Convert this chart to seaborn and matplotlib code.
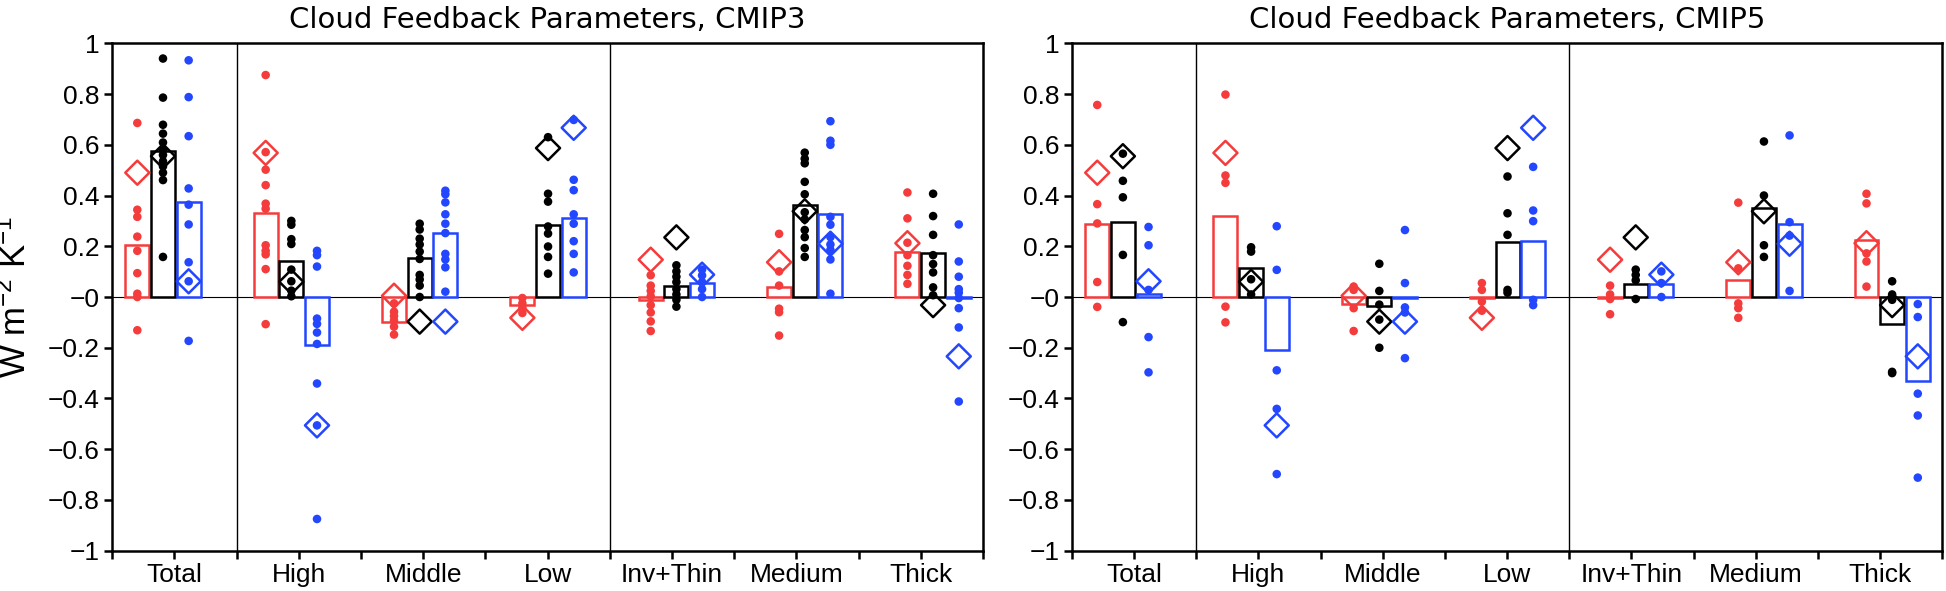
import numpy as np
import pandas as pd
import matplotlib.pyplot as plt
import seaborn as sns

# %%
# categories and components (red = LW, black = Net, blue = SW)
categories = ['Total', 'High', 'Middle', 'Low', 'Inv+Thin', 'Medium', 'Thick']
components = ['LW', 'Net', 'SW']

# multi-model mean feedbacks (bars)
cmip3_lw = [0.204, 0.333, -0.100, -0.032, -0.010, 0.038, 0.179]
cmip3_net = [0.576, 0.141, 0.155, 0.282, 0.042, 0.364, 0.172]
cmip3_sw = [0.373, -0.190, 0.252, 0.313, 0.055, 0.326, -0.005]

cmip5_lw = [0.288, 0.319, -0.028, -0.003, -0.003, 0.066, 0.226]
cmip5_net = [0.296, 0.113, -0.034, 0.217, 0.052, 0.352, -0.107]
cmip5_sw = [0.010, -0.209, -0.003, 0.221, 0.052, 0.289, -0.333]

# individual models (dots)
cmip3_lw_models = [
    [0.686, 0.344, 0.316, 0.238, 0.182, 0.094, 0.013, 0.0, -0.131],
    [0.875, 0.571, 0.502, 0.441, 0.368, 0.348, 0.204, 0.182, 0.168, 0.11, -0.107],
    [-0.025, -0.058, -0.075, -0.093, -0.117, -0.148],
    [-0.004, -0.025, -0.044, -0.063],
    [0.086, 0.045, 0.024, 0.003, -0.032, -0.061, -0.096, -0.134],
    [0.249, 0.101, 0.045, -0.046, -0.06, -0.152],
    [0.412, 0.31, 0.214, 0.165, 0.123, 0.087, 0.052],
]
cmip3_net_models = [
    [0.94, 0.786, 0.679, 0.644, 0.609, 0.58, 0.56, 0.535, 0.515, 0.49, 0.461, 0.158],
    [0.30, 0.285, 0.228, 0.209, 0.108, 0.062, 0.025, 0.003],
    [0.289, 0.266, 0.23, 0.207, 0.179, 0.15, 0.087, 0.069, 0.045, 0.0],
    [0.63, 0.407, 0.376, 0.278, 0.25, 0.199, 0.158, 0.092],
    [0.125, 0.101, 0.08, 0.059, 0.031, 0.01, -0.011, -0.038],
    [0.569, 0.545, 0.527, 0.454, 0.405, 0.334, 0.306, 0.264, 0.236, 0.193, 0.158],
    [0.407, 0.319, 0.245, 0.165, 0.13, 0.097, 0.038, 0.007],
]
cmip3_sw_models = [
    [0.933, 0.788, 0.634, 0.428, 0.364, 0.286, 0.137, 0.062, -0.173],
    [0.182, 0.165, 0.12, -0.085, -0.106, -0.14, -0.185, -0.341, -0.506, -0.875],
    [0.419, 0.405, 0.373, 0.326, 0.289, 0.252, 0.17, 0.148, 0.117, 0.021],
    [0.698, 0.462, 0.421, 0.326, 0.289, 0.22, 0.17, 0.097],
    [0.108, 0.085, 0.059, 0.031, 0.0],
    [0.693, 0.616, 0.6, 0.316, 0.285, 0.236, 0.207, 0.186, 0.148, 0.013],
    [0.286, 0.14, 0.08, 0.031, 0.017, -0.004, -0.044, -0.12, -0.412],
]

cmip5_lw_models = [
    [0.757, 0.366, 0.29, 0.059, -0.039],
    [0.798, 0.479, 0.45, -0.038, -0.1],
    [0.041, 0.028, -0.044, -0.134],
    [0.055, 0.028, -0.018, -0.054],
    [0.045, 0.01, -0.008, -0.068],
    [0.372, 0.113, -0.025, -0.044, -0.082],
    [0.407, 0.369, 0.172, 0.14, 0.041],
]
cmip5_net_models = [
    [0.565, 0.458, 0.393, 0.166, -0.099],
    [0.196, 0.179, 0.07, 0.01],
    [0.131, 0.024, -0.03, -0.089, -0.2],
    [0.475, 0.33, 0.245, 0.028, 0.017],
    [0.108, 0.087, 0.066, -0.008],
    [0.613, 0.4, 0.204, 0.158],
    [0.062, 0.01, -0.011, -0.295, -0.3],
]
cmip5_sw_models = [
    [0.276, 0.204, 0.028, -0.158, -0.297],
    [0.279, 0.107, -0.289, -0.441, -0.698],
    [0.264, 0.055, -0.041, -0.061, -0.241],
    [0.513, 0.341, 0.299, -0.011, -0.032],
    [0.101, 0.055, 0.0],
    [0.637, 0.295, 0.242, 0.024],
    [-0.028, -0.079, -0.381, -0.467, -0.712],
]

# observational estimate (diamonds), same in both panels
obs_lw = [0.49, 0.568, 0.005, -0.082, 0.147, 0.137, 0.212]
obs_net = [0.555, 0.06, -0.097, 0.587, 0.235, 0.338, -0.032]
obs_sw = [0.062, -0.506, -0.097, 0.667, 0.088, 0.21, -0.234]

colors = {'LW': '#f53c3c', 'Net': 'black', 'SW': '#2346ff'}
offset = {'LW': -0.2, 'Net': 0.0, 'SW': 0.2}

# %%
# bar groups are not centred on the label ticks (ticks every half group)
first_group, group_step = 0.818, 2.063


def to_u(t):
    return (np.asarray(t, dtype=float) - first_group) / group_step


def bar_frame(lw, net, sw):
    rows = []
    for comp, vals in zip(components, [lw, net, sw]):
        for cat, v in zip(categories, vals):
            rows.append({'category': cat, 'component': comp, 'value': v})
    return pd.DataFrame(rows)


def dot_frame(lw, net, sw):
    rows = []
    for comp, groups in zip(components, [lw, net, sw]):
        for i, vals in enumerate(groups):
            for v in vals:
                rows.append({'x': i + offset[comp], 'component': comp, 'value': v})
    return pd.DataFrame(rows)


obs = {'LW': obs_lw, 'Net': obs_net, 'SW': obs_sw}

plt.rcParams['font.family'] = ['Liberation Sans', 'DejaVu Sans']
plt.rcParams['mathtext.fontset'] = 'custom'
plt.rcParams['mathtext.rm'] = 'Liberation Sans'
plt.rcParams['mathtext.default'] = 'regular'

fig = plt.figure(figsize=(19.46, 5.91), dpi=100)
ax1 = fig.add_axes([0.0576, 0.0682, 0.4476, 0.8585])
ax2 = fig.add_axes([0.5509, 0.0682, 0.4471, 0.8585])


def draw_panel(ax, title, bars, dots):
    sns.barplot(data=bars, x='category', y='value', hue='component',
                order=categories, hue_order=components, palette=colors,
                fill=False, width=0.6, gap=0.065, errorbar=None,
                linewidth=1.8, legend=False, ax=ax)
    sns.scatterplot(data=dots, x='x', y='value', hue='component',
                    hue_order=components, palette=colors, s=38, linewidth=0,
                    legend=False, ax=ax, zorder=3)
    for comp in components:
        sns.scatterplot(x=np.arange(len(categories)) + offset[comp], y=obs[comp],
                        marker='D', s=150, facecolor='none', edgecolor=colors[comp],
                        linewidth=1.8, ax=ax, zorder=4)

    ax.axhline(0, color='black', lw=0.8, zorder=0.5)
    for t in (2, 8):
        ax.axvline(to_u(t), color='black', lw=1.0, zorder=0.5)

    ax.set_xlim(to_u(0), to_u(14))
    ax.set_xticks(to_u(np.arange(1, 14, 2)), categories)
    ax.set_xticks(to_u(np.arange(0, 15, 2)), minor=True)
    yt = np.round(np.arange(-1, 1.01, 0.2), 1)
    ax.set_ylim(-1, 1)
    ax.set_yticks(yt, [f'{v:g}'.replace('-', '\u2212') for v in yt])
    ax.tick_params(which='both', direction='out', length=6, width=1.8,
                   labelsize=19, pad=3)
    ax.set_xlabel('')
    ax.set_ylabel('')
    for sp in ax.spines.values():
        sp.set_linewidth(1.8)
    ax.set_title(title, fontsize=21, pad=11, family='DejaVu Sans')


draw_panel(ax1, 'Cloud Feedback Parameters, CMIP3',
           bar_frame(cmip3_lw, cmip3_net, cmip3_sw),
           dot_frame(cmip3_lw_models, cmip3_net_models, cmip3_sw_models))
draw_panel(ax2, 'Cloud Feedback Parameters, CMIP5',
           bar_frame(cmip5_lw, cmip5_net, cmip5_sw),
           dot_frame(cmip5_lw_models, cmip5_net_models, cmip5_sw_models))

fig.text(16 / 1946, 0.497, r'W m$^{-2}$ K$^{-1}$', rotation=90,
         ha='center', va='center', fontsize=25)

fig.savefig('out.png', dpi=100)
